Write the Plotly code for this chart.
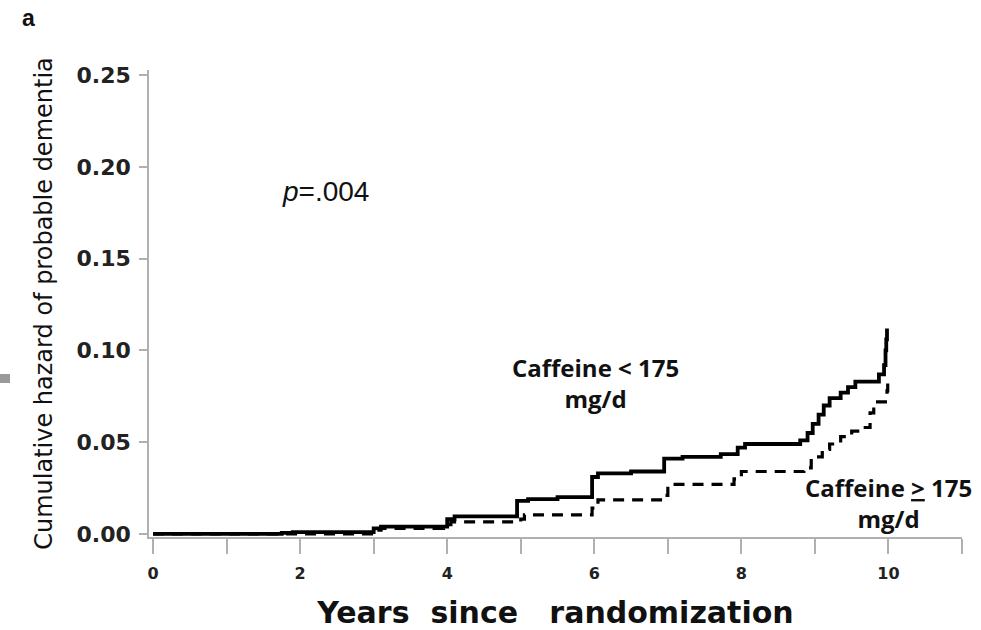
import plotly.graph_objects as go

# Cumulative hazard of probable dementia by caffeine intake group
years_low = [0, 1.75, 1.9, 3.0, 3.1, 4.0, 4.1, 4.95, 5.1, 5.5, 5.97, 6.05, 6.5, 6.95, 7.2,
             7.72, 7.95, 8.05, 8.8, 8.9, 8.97, 9.05, 9.12, 9.2, 9.35, 9.45, 9.55, 9.87,
             9.94, 9.96, 9.97, 9.98]
hazard_low = [0, 0.0005, 0.001, 0.003, 0.004, 0.008, 0.0095, 0.018, 0.019, 0.020, 0.031,
              0.033, 0.034, 0.041, 0.042, 0.0435, 0.047, 0.049, 0.051, 0.055, 0.060, 0.065,
              0.070, 0.074, 0.077, 0.080, 0.083, 0.087, 0.092, 0.100, 0.106, 0.112]

years_high = [0, 3.0, 3.1, 3.95, 4.05, 5.0, 5.05, 5.97, 6.05, 6.9, 7.0, 7.9, 8.0, 8.85,
              8.95, 9.1, 9.2, 9.35, 9.5, 9.65, 9.75, 9.8, 9.98, 9.99]
hazard_high = [0, 0.002, 0.003, 0.005, 0.0065, 0.008, 0.0104, 0.014, 0.0185, 0.021, 0.027,
               0.030, 0.034, 0.036, 0.042, 0.046, 0.049, 0.053, 0.056, 0.058, 0.066, 0.072,
               0.078, 0.086]

x_ticks = [0, 2, 4, 6, 8, 10]
y_ticks = [0.00, 0.05, 0.10, 0.15, 0.20, 0.25]
y_tick_text = ["0.00", "0.05", "0.10", "0.15", "0.20", "0.25"]

fig = go.Figure()
fig.add_trace(go.Scatter(x=years_high, y=hazard_high, mode="lines", line_shape="hv",
                         line=dict(color="black", width=3.2, dash="11px,8px"),
                         name="Caffeine >= 175 mg/d"))
fig.add_trace(go.Scatter(x=years_low, y=hazard_low, mode="lines", line_shape="hv",
                         line=dict(color="black", width=3.8),
                         name="Caffeine < 175 mg/d"))

axis_grey = "#b0b0b0"
tick_font = dict(family="DejaVu Sans", weight="bold", color="#222")
label_font = dict(family="Open Sans", weight="bold", size=24, color="#111")

fig.update_layout(
    width=981, height=630,
    margin=dict(l=149, r=19, t=70, b=93),
    paper_bgcolor="white", plot_bgcolor="white",
    showlegend=False,
    xaxis=dict(range=[-0.055, 11], tickvals=list(range(0, 12)),
               ticktext=[str(v) if v in x_ticks else "" for v in range(0, 12)],
               showline=True, linecolor=axis_grey, linewidth=1.5,
               ticks="outside", ticklen=15, tickcolor=axis_grey, tickwidth=1.5,
               ticklabelstandoff=6, automargin=False,
               showgrid=False, zeroline=False,
               tickfont=dict(size=16, **tick_font),
               title=dict(text="Years&nbsp;&nbsp;since&nbsp;&nbsp;&nbsp;randomization",
                          font=dict(family="DejaVu Sans", weight="bold", size=30, color="#111"),
                          standoff=20)),
    yaxis=dict(range=[-0.0017, 0.2529], tickvals=y_ticks, ticktext=y_tick_text,
               showline=True, linecolor=axis_grey, linewidth=1.5,
               ticks="outside", ticklen=8, tickcolor=axis_grey, tickwidth=1.5,
               ticklabelstandoff=4, automargin=False,
               showgrid=False, zeroline=False,
               tickfont=dict(size=22, **tick_font),
               title=dict(text="Cumulative hazard of probable dementia",
                          font=dict(family="DejaVu Sans", size=24, color="#111"),
                          standoff=17)),
    annotations=[
        dict(text="<i>p</i>=.004", x=2.34, y=0.1865, xref="x", yref="y", showarrow=False,
             font=dict(family="Liberation Sans", size=28, color="#111")),
        dict(text="Caffeine &lt; 175<br>mg/d", x=6.02, y=0.0823, xref="x", yref="y",
             showarrow=False, align="center", font=label_font),
        dict(text="Caffeine <u>&gt;</u> 175<br>mg/d", x=10.0, y=0.0169, xref="x", yref="y",
             showarrow=False, align="center", font=label_font),
        dict(text="<b>a</b>", x=-149 / 813 + 28 / 813, y=1 + 52 / 467, xref="paper",
             yref="paper", showarrow=False, xanchor="center", yanchor="middle",
             font=dict(family="Liberation Sans", size=23, color="#111")),
    ],
    shapes=[
        dict(type="rect", xref="paper", yref="paper",
             x0=-149 / 813, x1=-139 / 813, y0=(537 - 383) / 467, y1=(537 - 374) / 467,
             fillcolor="#999", line=dict(width=0)),
    ],
)

fig.write_html("out.html")
